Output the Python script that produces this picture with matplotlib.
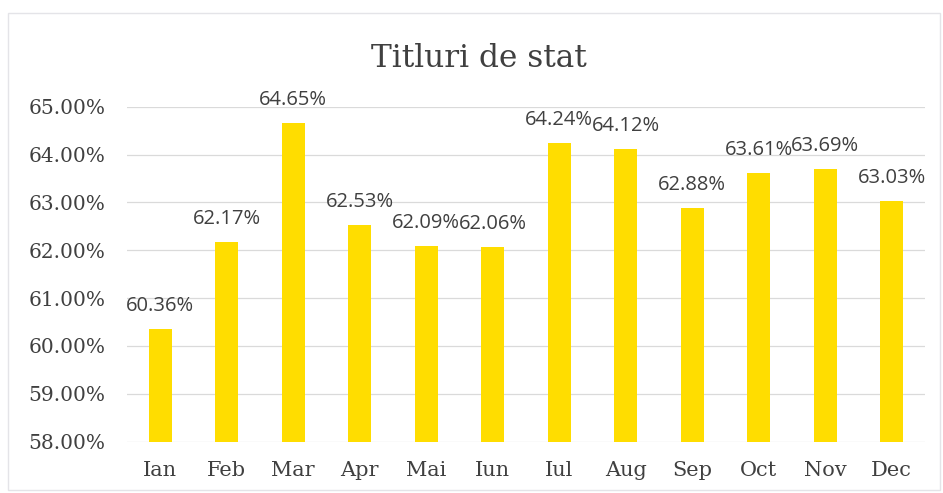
import matplotlib
matplotlib.use("Agg")
import matplotlib.pyplot as plt
from matplotlib.patches import Rectangle

months = ["Ian", "Feb", "Mar", "Apr", "Mai", "Iun", "Iul", "Aug", "Sep", "Oct", "Nov", "Dec"]
values = [60.36, 62.17, 64.65, 62.53, 62.09, 62.06, 64.24, 64.12, 62.88, 63.61, 63.69, 63.03]
yticks = [58, 59, 60, 61, 62, 63, 64, 65]

bar_color = "#FFDD00"
text_color = "#404040"

fig = plt.figure(figsize=(9.43, 4.93), dpi=100)
fig.patch.set_facecolor("white")
fig.patches.append(Rectangle((8 / 943, 3 / 493), 932 / 943, 477 / 493, transform=fig.transFigure,
                             fill=False, edgecolor="#e4e4e8", linewidth=1))

ax = fig.add_axes([127 / 943, 1 - 441.7 / 493, 798 / 943, (441.7 - 106.7) / 493])
x = list(range(len(months)))
ax.bar(x, values, width=0.35, color=bar_color, zorder=3, bottom=0)
ax.set_xlim(-0.5, len(months) - 0.5)
ax.set_ylim(58, 65)
ax.set_yticks(yticks)
ax.set_yticklabels([f"{v:.2f}%" for v in yticks], family="DejaVu Serif", fontsize=14.5, color=text_color)
ax.set_xticks(x)
ax.set_xticklabels(months, family="DejaVu Serif", fontsize=15, color=text_color)
ax.tick_params(axis="x", length=0, pad=14)
ax.tick_params(axis="y", length=0, pad=15.5)
ax.grid(axis="y", color="#dadada", linewidth=0.9, zorder=0)
for s in ax.spines.values():
    s.set_visible(False)

for xi, v in zip(x, values):
    ax.annotate(f"{v:.2f}%", (xi, v), xytext=(0, 13), textcoords="offset points",
                ha="center", va="baseline", family="Open Sans", fontsize=14.5,
                color=text_color, annotation_clip=False)

fig.text(479 / 943, 1 - 67 / 493, "Titluri de stat", ha="center", va="baseline",
         family="DejaVu Serif", fontsize=22.5, color=text_color)

fig.savefig("out.png", dpi=100)
